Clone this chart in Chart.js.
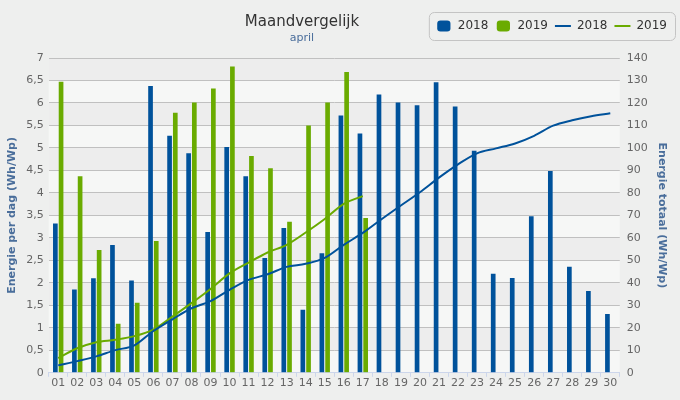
<!DOCTYPE html>
<html>
<head>
<meta charset="utf-8">
<title>Maandvergelijk april</title>
<script src="https://cdn.jsdelivr.net/npm/chart.js@4.4.1/dist/chart.umd.min.js"></script>
<style>
  html, body { margin: 0; padding: 0; background: #eeefee; }
  #wrap { width: 680px; height: 400px; }
</style>
</head>
<body>
<div id="wrap"><canvas id="chart"></canvas></div>
<script>
// Categories: days of april
const days = ["01", "02", "03", "04", "05", "06", "07", "08", "09", "10",
  "11", "12", "13", "14", "15", "16", "17", "18", "19", "20",
  "21", "22", "23", "24", "25", "26", "27", "28", "29", "30"];

// Energy per day (Wh/Wp)
const daily2018 = [3.32, 1.85, 2.10, 2.84, 2.05, 6.38, 5.27, 4.88, 3.13, 5.02,
  4.37, 2.55, 3.22, 1.40, 2.66, 5.72, 5.32, 6.19, 6.01, 5.95,
  6.46, 5.92, 4.94, 2.20, 2.11, 3.48, 4.49, 2.36, 1.82, 1.31];
const daily2019 = [6.47, 4.37, 2.73, 1.09, 1.56, 2.93, 5.78, 6.01, 6.32, 6.81,
  4.82, 4.55, 3.36, 5.50, 6.01, 6.69, 3.44, null, null, null,
  null, null, null, null, null, null, null, null, null, null];

// Energy total so far (Wh/Wp)
const total2018 = [3.3, 5.2, 7.3, 10.1, 12.2, 18.6, 23.8, 28.7, 31.9, 36.9,
  41.3, 43.8, 47.1, 48.5, 51.1, 56.9, 62.2, 68.4, 74.4, 80.3,
  86.8, 92.7, 97.6, 99.8, 102.0, 105.4, 109.9, 112.3, 114.1, 115.4];
const total2019 = [6.5, 10.9, 13.6, 14.7, 16.3, 19.2, 25.0, 31.0, 37.3, 44.2,
  49.0, 53.5, 56.9, 62.4, 68.4, 75.1, 78.6, null, null, null,
  null, null, null, null, null, null, null, null, null, null];

// Axis ranges
const dailyMax = 7;
const dailyStep = 0.5;
const totalMax = 140;
const totalStep = 10;

const blue = "#00529b";
const green = "#6aab00";
const titleBlue = "#4a6e9b";
const tickGrey = "#666666";
const fontFamily = "'DejaVu Sans', Verdana, sans-serif";

// background + alternating plot bands
const bandsPlugin = {
  id: "bands",
  beforeLayout(chart) {
    // leave extra room under the legend, the plot starts lower
    const legend = chart.legend;
    if (legend && !legend._patched) {
      const fit = legend.fit;
      legend.fit = function () {
        fit.call(this);
        this.height += 16;
      };
      legend._patched = true;
    }
  },
  beforeDraw(chart) {
    const ctx = chart.ctx;
    const area = chart.chartArea;
    const y = chart.scales.y;
    ctx.save();
    ctx.fillStyle = "#eeefee";
    ctx.fillRect(0, 0, chart.width, chart.height);
    let i = 0;
    for (let v = 0; v < dailyMax; v += dailyStep) {
      const top = y.getPixelForValue(v + dailyStep);
      const bottom = y.getPixelForValue(v);
      ctx.fillStyle = i % 2 === 0 ? "#f6f7f6" : "#ededed";
      ctx.fillRect(area.left, top, area.right - area.left, bottom - top);
      i++;
    }
    ctx.restore();
  }
};

// title, subtitle and the box round the legend
const headerPlugin = {
  id: "header",
  afterDraw(chart) {
    const ctx = chart.ctx;
    ctx.save();
    ctx.textAlign = "center";
    ctx.textBaseline = "middle";
    ctx.fillStyle = "#333333";
    ctx.font = "15px " + fontFamily;
    ctx.fillText("Maandvergelijk", 302, 22);
    ctx.fillStyle = titleBlue;
    ctx.font = "11px " + fontFamily;
    ctx.fillText("april", 302, 38);

    const boxes = chart.legend.legendHitBoxes;
    if (boxes && boxes.length) {
      const last = boxes[boxes.length - 1];
      const left = boxes[0].left - 7;
      const right = last.left + last.width + 8;
      const top = boxes[0].top - 8;
      const bottom = boxes[0].top + boxes[0].height + 8;
      ctx.strokeStyle = "#c4c4c4";
      ctx.lineWidth = 1;
      ctx.beginPath();
      ctx.roundRect(left + 0.5, top + 0.5, right - left, bottom - top, 5);
      ctx.stroke();
    }
    ctx.restore();
  }
};

new Chart(document.getElementById("chart"), {
  type: "bar",
  data: {
    labels: days,
    datasets: [
      {
        type: "bar",
        label: "2018",
        data: daily2018,
        backgroundColor: blue,
        borderWidth: 0,
        yAxisID: "y",
        order: 2,
        categoryPercentage: 0.6,
        barPercentage: 0.82,
        pointStyle: "rectRounded"
      },
      {
        type: "bar",
        label: "2019",
        data: daily2019,
        backgroundColor: green,
        borderWidth: 0,
        yAxisID: "y",
        order: 2,
        categoryPercentage: 0.6,
        barPercentage: 0.82,
        pointStyle: "rectRounded"
      },
      {
        type: "line",
        label: "2018",
        data: total2018,
        borderColor: blue,
        backgroundColor: blue,
        borderWidth: 2,
        pointRadius: 0,
        tension: 0.4,
        cubicInterpolationMode: "monotone",
        yAxisID: "y2",
        order: 1,
        pointStyle: "line"
      },
      {
        type: "line",
        label: "2019",
        data: total2019,
        borderColor: green,
        backgroundColor: green,
        borderWidth: 2,
        pointRadius: 0,
        tension: 0.4,
        cubicInterpolationMode: "monotone",
        yAxisID: "y2",
        order: 1,
        pointStyle: "line"
      }
    ]
  },
  options: {
    responsive: true,
    maintainAspectRatio: false,
    animation: false,
    layout: { padding: { left: 6, right: 6, top: 13, bottom: 10 } },
    plugins: {
      tooltip: { enabled: false },
      title: { display: false },
      legend: {
        position: "top",
        align: "end",
        labels: {
          usePointStyle: true,
          pointStyleWidth: 16,
          boxHeight: 9,
          padding: 7,
          color: "#333333",
          font: { family: fontFamily, size: 12 },
          sort: (a, b) => a.datasetIndex - b.datasetIndex
        }
      }
    },
    scales: {
      x: {
        grid: {
          display: true,
          drawOnChartArea: false,
          offset: true,
          color: "#ccd6eb",
          tickLength: 4
        },
        border: { color: "#ccd6eb" },
        ticks: {
          color: tickGrey,
          font: { family: fontFamily, size: 11 },
          padding: 0,
          maxRotation: 0,
          autoSkip: false
        }
      },
      y: {
        position: "left",
        min: 0,
        max: dailyMax,
        grid: {
          color: (c) => (c.tick && c.tick.value === 0 ? "rgba(0,0,0,0)" : "#c0c0c0"),
          drawTicks: false
        },
        border: { display: false },
        ticks: {
          stepSize: dailyStep,
          color: tickGrey,
          padding: 5,
          font: { family: fontFamily, size: 11 },
          callback: (v) => String(v).replace(".", ",")
        },
        title: {
          display: true,
          text: "Energie per dag (Wh/Wp)",
          color: titleBlue,
          padding: { top: 0, bottom: 2 },
          font: { family: fontFamily, size: 11, weight: "bold" }
        }
      },
      y2: {
        position: "right",
        min: 0,
        max: totalMax,
        grid: { drawOnChartArea: false, drawTicks: false },
        border: { display: false },
        ticks: {
          stepSize: totalStep,
          color: tickGrey,
          padding: 7,
          font: { family: fontFamily, size: 11 }
        },
        title: {
          display: true,
          text: "Energie totaal (Wh/Wp)",
          color: titleBlue,
          padding: { top: 6, bottom: 0 },
          font: { family: fontFamily, size: 11, weight: "bold" }
        }
      }
    }
  },
  plugins: [bandsPlugin, headerPlugin]
});
</script>
</body>
</html>
